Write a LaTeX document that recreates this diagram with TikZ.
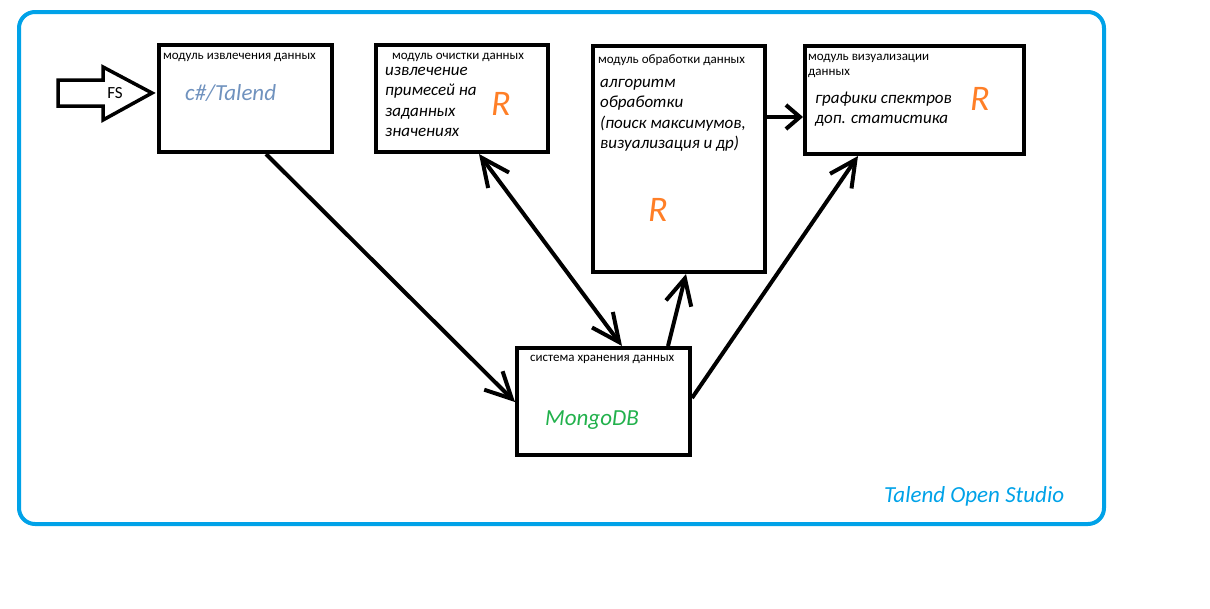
\documentclass[tikz,border=0pt]{standalone}
\usepackage{fontspec}
\setmainfont{Carlito}
\usetikzlibrary{arrows.meta,calc}
\definecolor{frameblue}{HTML}{00A2E8}
\definecolor{steel}{HTML}{7092BE}
\definecolor{rorange}{HTML}{FF7F27}
\definecolor{mgreen}{HTML}{22B14C}
\tikzset{
  modbox/.style={draw=black, line width=4pt, inner sep=0pt, anchor=north west},
  title/.style={anchor=north west, inner sep=0pt, font=\fontsize{13}{15}\selectfont, align=left},
  body/.style={anchor=north west, inner sep=0pt, font=\fontsize{17}{20.5}\selectfont\itshape, align=left},
  rlabel/.style={inner sep=0pt, text=rorange, font=\fontsize{36}{40}\selectfont\itshape},
  conn/.style={line width=4pt, -{Straight Barb[length=26pt,width=26pt]}},
  shortconn/.style={line width=4pt, -{Straight Barb[length=14pt,width=24pt]}},
  dconn/.style={line width=4pt, {Straight Barb[length=28pt,width=26pt]}-{Straight Barb[length=28pt,width=26pt]}}
}
\begin{document}
\begin{tikzpicture}[x=1pt,y=-1pt]
\useasboundingbox (0,0) rectangle (1210,608);
% outer frame
\draw[frameblue, line width=4pt, rounded corners=16pt] (19,12) rectangle (1104,524);
\node[anchor=west, inner sep=0pt, text=frameblue, font=\fontsize{23}{26}\selectfont\itshape] (tos) at (884,496) {Talend Open Studio};

% boxes
\node[modbox, minimum width=173pt, minimum height=107pt] (b1) at (157,43) {};
\node[modbox, minimum width=172pt, minimum height=107pt] (b2) at (374,43) {};
\node[modbox, minimum width=172pt, minimum height=226pt] (b3) at (591,44) {};
\node[modbox, minimum width=219pt, minimum height=108pt] (b4) at (803,44) {};
\node[modbox, minimum width=173pt, minimum height=107pt] (b5) at (515,346) {};

% FS arrow
\draw[line width=3.5pt, line join=miter] (58,80) -- (103,80) -- (103,67) -- (152,93) -- (103,120) -- (103,106) -- (58,106) -- cycle;
\node[inner sep=0pt, font=\fontsize{17}{19}\selectfont] (fs) at (115,93) {FS};

% box 1
\node[title] (t1) at (163,53) {модуль извлечения данных};
\node[anchor=west, inner sep=0pt, text=steel, font=\fontsize{23}{26}\selectfont\itshape] (c1) at (185,93) {c\#/Talend};

% box 2
\node[title] (t2) at (392,53) {модуль очистки данных};
\node[body] (d2) at (385,67) {извлечение\\примесей на\\заданных\\значениях};
\node[rlabel] (r2) at (501,104) {R};

% box 3
\node[title] (t3) at (598,54) {модуль обработки данных};
\node[body] (d3) at (600,79) {алгоритм\\обработки\\(поиск максимумов,\\визуализация и др)};
\node[rlabel] (r3) at (658,210) {R};

% box 4
\node[title, font=\fontsize{13}{15}\selectfont] (t4) at (808,54) {модуль визуализации\\данных};
\node[body, font=\fontsize{17}{19.5}\selectfont\itshape] (d4) at (815,92) {графики спектров\\доп. статистика};
\node[rlabel] (r4) at (980,99) {R};

% box 5
\node[title] (t5) at (530,355) {система хранения данных};
\node[anchor=west, inner sep=0pt, text=mgreen, font=\fontsize{23}{26}\selectfont\itshape] (m5) at (545,420) {MongoDB};

% connectors
\draw[conn] (266,0 |- b1.south) -- (b5.west |- 0,402);
\draw[dconn] (479,0 |- b2.south) -- (622,0 |- b5.north);
\draw[conn] (668,0 |- b5.north) -- (686,0 |- b3.south);
\draw[conn] (b5.east |- 0,398) -- (858,0 |- b4.south);
\draw[shortconn] (b3.east |- 0,117) -- (b4.west |- 0,117);
\end{tikzpicture}
\end{document}
